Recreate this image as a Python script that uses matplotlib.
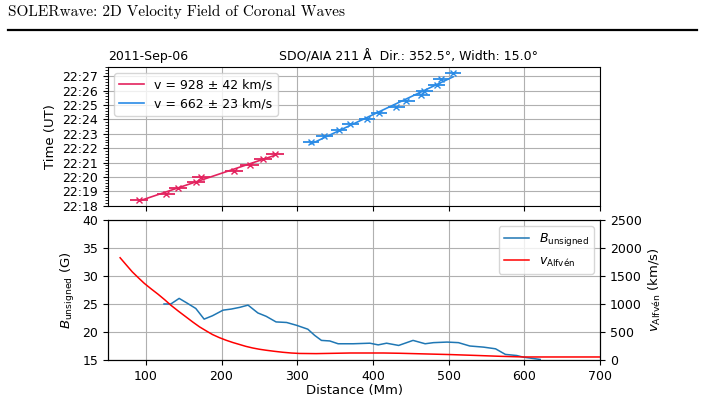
import numpy as np
import matplotlib
matplotlib.use("Agg")
import matplotlib.pyplot as plt
import matplotlib.dates as mdates
from datetime import datetime, timedelta

# ---------------- data ----------------
base_time = "2011-09-06 22:18:00"

# wavefront 1 (red)
w1_dist = [91, 127, 143, 166, 173, 217, 237, 255, 271]
w1_time = ["22:18:24", "22:18:50", "22:19:14", "22:19:37", "22:20:01",
           "22:20:25", "22:20:50", "22:21:13", "22:21:37"]
w1_err = [12, 12, 12, 12, 12, 12, 12, 12, 12]
w1_label = "v = 928 ± 42 km/s"

# wavefront 2 (blue)
w2_dist = [318, 336, 355, 370, 392, 408, 431, 444, 464, 468, 484, 490, 506]
w2_time = ["22:22:26", "22:22:50", "22:23:14", "22:23:39", "22:24:00",
           "22:24:26", "22:24:51", "22:25:15", "22:25:40", "22:26:00",
           "22:26:25", "22:26:49", "22:27:13"]
w2_err = [11, 11, 11, 11, 11, 11, 11, 11, 11, 11, 11, 11, 11]
w2_label = "v = 662 ± 23 km/s"

# magnetic field profile
b_dist = [124, 133, 144, 154, 166, 177, 188, 202, 213, 224, 235, 248, 259,
          272, 286, 299, 314, 323, 332, 343, 354, 374, 396, 407, 418, 434,
          453, 469, 480, 498, 513, 528, 546, 562, 575, 590, 599, 610, 621]
b_val = [25.0, 25.0, 26.0, 25.2, 24.2, 22.3, 22.9, 23.9, 24.1, 24.4, 24.8,
         23.4, 22.8, 21.8, 21.7, 21.2, 20.5, 19.4, 18.5, 18.4, 17.9, 17.9,
         18.0, 17.7, 18.0, 17.6, 18.5, 17.9, 18.1, 18.2, 18.1, 17.5, 17.3,
         17.0, 16.0, 15.8, 15.5, 15.3, 15.1]

# Alfven speed profile
va_dist = [66, 74, 82, 90, 98, 107, 116, 125, 133, 143, 153, 162, 171, 180,
           188, 197, 206, 215, 224, 232, 241, 250, 259, 270, 281, 292, 303,
           325, 350, 370, 414, 436, 470, 502, 535, 568, 600, 700]
va_val = [1826, 1700, 1575, 1470, 1368, 1270, 1176, 1075, 979, 872, 770, 678,
          591, 518, 455, 400, 353, 312, 276, 244, 215, 192, 174, 155, 138, 125,
          117, 114, 120, 125, 125, 120, 108, 97, 82, 66, 54, 54]

title_text = "SOLERwave: 2D Velocity Field of Coronal Waves"
date_text = "2011-Sep-06"
info_text = "SDO/AIA 211 Å  Dir.: 352.5°, Width: 15.0°"

# ---------------- helpers ----------------
day = "2011-09-06 "
def to_dt(s):
    return datetime.strptime(day + s, "%Y-%m-%d %H:%M:%S")

t0 = datetime.strptime(base_time, "%Y-%m-%d %H:%M:%S")

W, H = 705, 399
fig = plt.figure(figsize=(W / 100, H / 100), dpi=100)

def ax_rect(l, t, r, b):
    return [l / W, 1 - b / H, (r - l) / W, (b - t) / H]

ax1 = fig.add_axes(ax_rect(108, 67, 600, 206))
ax2 = fig.add_axes(ax_rect(108, 220, 600, 360))

red = "#e3225e"
blue = "#2a8be6"

for dist, tim, err, col, lab in [(w1_dist, w1_time, w1_err, red, w1_label),
                                  (w2_dist, w2_time, w2_err, blue, w2_label)]:
    tdt = [to_dt(s) for s in tim]
    tnum = mdates.date2num(tdt)
    ax1.errorbar(dist, tnum, xerr=err, fmt="x", color=col, ms=5,
                 elinewidth=1.3, capsize=0, mew=1.0)
    p = np.polyfit(dist, tnum, 1)
    xs = np.array([min(dist), max(dist)])
    ax1.plot(xs, np.polyval(p, xs), color=col, lw=1.2, label=lab)

ax1.yaxis_date()
ax1.set_xlim(50, 700)
ax1.set_ylim(mdates.date2num(t0 - timedelta(seconds=1)),
             mdates.date2num(t0 + timedelta(minutes=9, seconds=38)))
ax1.yaxis.set_major_locator(mdates.MinuteLocator())
ax1.yaxis.set_major_formatter(mdates.DateFormatter("%H:%M"))
ax1.yaxis.set_minor_locator(mdates.SecondLocator(bysecond=range(0, 60, 12)))
ax1.set_xticks([100, 200, 300, 400, 500, 600, 700])
ax1.tick_params(axis="x", labelbottom=False)
ax1.tick_params(labelsize=9)
ax1.grid(True, which="major", color="#b0b0b0", lw=0.8)
ax1.set_ylabel("Time (UT)", fontsize=9.5)
ax1.legend(loc="upper left", fontsize=9, framealpha=0.8)

# bottom panel
ax2.plot(b_dist, b_val, color="#1f77b4", lw=1.1, label=r"$B_\mathrm{unsigned}$")
ax2.set_xlim(50, 700)
ax2.set_ylim(15, 40)
ax2.set_xticks([100, 200, 300, 400, 500, 600, 700])
ax2.set_yticks([15, 20, 25, 30, 35, 40])
ax2.grid(True, color="#b0b0b0", lw=0.8)
ax2.tick_params(labelsize=9)
ax2.set_xlabel("Distance (Mm)", fontsize=9.5, labelpad=1)
ax2.set_ylabel(r"$B_\mathrm{unsigned}$ (G)", fontsize=9.5)

ax3 = ax2.twinx()
ax3.plot(va_dist, va_val, color="red", lw=1.1, label=r"$v_\mathrm{Alfvén}$")
ax3.set_ylim(0, 2500)
ax3.set_yticks([0, 500, 1000, 1500, 2000, 2500])
ax3.tick_params(labelsize=9)
ax3.set_ylabel(r"$v_\mathrm{Alfvén}$ (km/s)", fontsize=9.5)

h1, l1 = ax2.get_legend_handles_labels()
h2, l2 = ax3.get_legend_handles_labels()
ax3.legend(h1 + h2, l1 + l2, loc="upper right", fontsize=9, framealpha=0.8)

# header
fig.text(8 / W, 1 - 12 / H, title_text, family="cmr10", fontsize=11,
         va="center", ha="left")
fig.add_artist(plt.Line2D([8 / W, 697 / W], [1 - 29.5 / H, 1 - 29.5 / H],
                          color="black", lw=1.6, transform=fig.transFigure))
fig.text(108 / W, 1 - 60 / H, date_text, fontsize=9, ha="left", va="baseline")
fig.text(538 / W, 1 - 60 / H, info_text, fontsize=9, ha="right", va="baseline")

fig.savefig("out.png", dpi=100)
